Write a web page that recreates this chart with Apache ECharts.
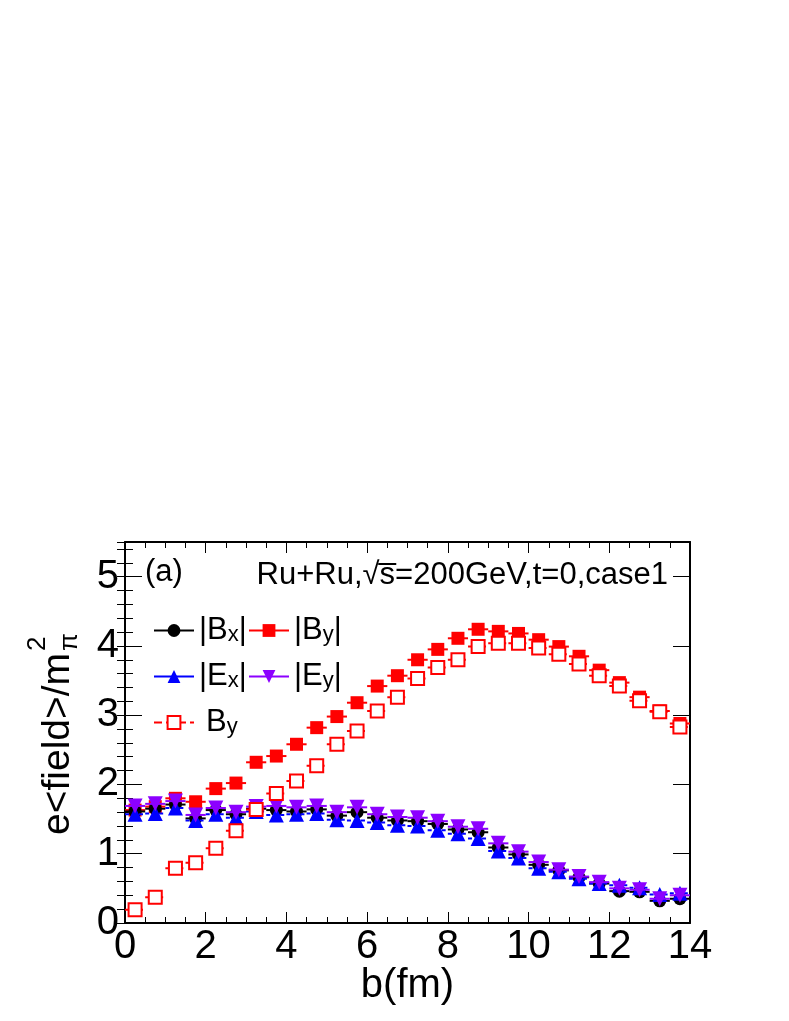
<!DOCTYPE html>
<html>
<head>
<meta charset="utf-8">
<script src="https://cdn.jsdelivr.net/npm/echarts@6.0.0/dist/echarts.min.js"></script>
<style>
  html, body { margin: 0; padding: 0; background: #fff; }
  #chart { width: 789px; height: 1021px; }
</style>
</head>
<body>
<div id="chart"></div>
<script>
const FONT = '"Liberation Sans", Arial, Helvetica, sans-serif';

// impact parameter bin centres, fm
const bCenters = [0.25, 0.75, 1.25, 1.75, 2.25, 2.75, 3.25, 3.75, 4.25, 4.75,
                  5.25, 5.75, 6.25, 6.75, 7.25, 7.75, 8.25, 8.75, 9.25, 9.75,
                  10.25, 10.75, 11.25, 11.75, 12.25, 12.75, 13.25, 13.75];
// half bin width -> horizontal error bar
const bHalfWidth = 0.25;

// e<field>/m_pi^2
const bxAbs = [1.61, 1.65, 1.71, 1.51, 1.63, 1.57, 1.65, 1.63, 1.61, 1.64,
               1.55, 1.60, 1.52, 1.48, 1.47, 1.43, 1.35, 1.31, 1.09, 0.99,
               0.84, 0.76, 0.66, 0.57, 0.46, 0.45, 0.32, 0.35];
const byAbs = [1.63, 1.68, 1.80, 1.75, 1.94, 2.02, 2.32, 2.41, 2.58, 2.82,
               2.98, 3.18, 3.42, 3.57, 3.80, 3.95, 4.11, 4.24, 4.21, 4.18,
               4.09, 3.99, 3.85, 3.65, 3.47, 3.26, 3.06, 2.88];
const exAbs = [1.57, 1.58, 1.66, 1.48, 1.57, 1.52, 1.61, 1.56, 1.57, 1.58,
               1.49, 1.48, 1.45, 1.41, 1.40, 1.34, 1.29, 1.22, 1.04, 0.94,
               0.79, 0.74, 0.64, 0.57, 0.545, 0.51, 0.41, 0.43];
const eyAbs = [1.69, 1.72, 1.76, 1.56, 1.66, 1.60, 1.68, 1.69, 1.67, 1.69,
               1.60, 1.67, 1.57, 1.53, 1.52, 1.47, 1.39, 1.36, 1.15, 1.03,
               0.88, 0.77, 0.67, 0.59, 0.50, 0.48, 0.35, 0.40];
const bySigned = [0.19, 0.37, 0.79, 0.87, 1.08, 1.33, 1.64, 1.87, 2.05, 2.27,
                  2.58, 2.77, 3.06, 3.26, 3.53, 3.69, 3.80, 3.99, 4.04, 4.04,
                  3.97, 3.88, 3.74, 3.57, 3.42, 3.21, 3.05, 2.83];

const RED = '#ff0000', BLUE = '#0000ff', VIOLET = '#8c00ff', BLACK = '#000000';

function pts(vals) {
  return bCenters.map((b, i) => [b, vals[i]]);
}

function barSeries(vals, color, dashed, z) {
  return {
    type: 'custom',
    data: pts(vals),
    z: z,
    silent: true,
    animation: false,
    renderItem: function (params, api) {
      const b = api.value(0), v = api.value(1);
      const p1 = api.coord([b - bHalfWidth, v]);
      const p2 = api.coord([b + bHalfWidth, v]);
      return {
        type: 'line',
        shape: { x1: p1[0], y1: p1[1], x2: p2[0], y2: p2[1] },
        style: { stroke: color, lineWidth: 2, lineDash: dashed ? [4, 3] : null }
      };
    }
  };
}

function markerSeries(name, vals, symbol, color, size, z, rotate) {
  return {
    name: name,
    type: 'line',
    data: pts(vals),
    symbol: symbol,
    symbolSize: size,
    symbolRotate: rotate || 0,
    showSymbol: true,
    showAllSymbol: true,
    z: z,
    silent: true,
    animation: false,
    itemStyle: { color: color },
    lineStyle: { width: 0, opacity: 0 },
    emphasis: { disabled: true }
  };
}

const sub = { fontFamily: FONT, fontSize: 22, lineHeight: 22, padding: [15, 0, 0, 0], verticalAlign: 'bottom', color: '#000' };
const main = { fontFamily: FONT, fontSize: 31, lineHeight: 31, verticalAlign: 'top', color: '#000' };
const mainGap = Object.assign({}, main, { padding: [0, 0, 0, 7] });

const legendSpecs = [
  { name: '|Bx|', label: '{m||B}{s|x}{m||}', left: 153, top: 609, color: BLACK, type: 'solid' },
  { name: '|By|', label: '{m||B}{s|y}{m||}', left: 248, top: 609, color: RED, type: 'solid' },
  { name: '|Ex|', label: '{m||E}{s|x}{m||}', left: 153, top: 655, color: BLUE, type: 'solid' },
  { name: '|Ey|', label: '{m||E}{s|y}{m||}', left: 248, top: 655, color: VIOLET, type: 'solid' },
  { name: 'By',   label: '{g|B}{s|y}',       left: 153, top: 701, color: RED, type: 'dashed' }
];

const legends = legendSpecs.map(s => ({
  left: s.left,
  top: s.top,
  padding: 0,
  itemWidth: 40,
  itemHeight: 16,
  selectedMode: false,
  data: [{ name: s.name, lineStyle: { color: s.color, width: 2, type: s.type, opacity: 1 } }],
  formatter: () => s.label,
  textStyle: { rich: { m: main, g: mainGap, s: sub } }
}));

const axisLine = { show: true, onZero: false, lineStyle: { color: '#000', width: 2 } };
const tickLine = { color: '#000', width: 1 };

function xAx(position, labels) {
  return {
    type: 'value', min: 0, max: 14, interval: 2, position: position,
    axisLine: axisLine,
    axisTick: { show: true, inside: true, length: 11, lineStyle: tickLine },
    minorTick: { show: true, splitNumber: 4, length: 6, lineStyle: tickLine },
    splitLine: { show: false }, minorSplitLine: { show: false },
    axisLabel: labels ? { show: true, margin: 4, fontFamily: FONT, fontSize: 40, color: '#000' } : { show: false },
    name: labels ? 'b(fm)' : '',
    nameLocation: 'middle', nameGap: 43, nameMoveOverlap: false,
    nameTextStyle: { fontFamily: FONT, fontSize: 40, color: '#000' }
  };
}

function yAx(position, interval, len, labels, line) {
  return {
    type: 'value', min: 0, max: 5.5, interval: interval, position: position,
    axisLine: line ? axisLine : { show: false },
    axisTick: { show: true, inside: true, length: len, lineStyle: tickLine },
    splitLine: { show: false },
    axisLabel: labels ? {
      show: true, margin: 6, fontFamily: FONT, fontSize: 40, color: '#000',
      formatter: v => (Math.abs(v - Math.round(v)) < 1e-6 ? String(Math.round(v)) : '')
    } : { show: false }
  };
}

const chart = echarts.init(document.getElementById('chart'), null, { renderer: 'canvas' });

// y title: e<field>/m with stacked 2 and pi
const ctx = document.createElement('canvas').getContext('2d');
ctx.font = '39px ' + FONT;
const yTitleMain = 'e<field>/m';
const yTitleW = ctx.measureText(yTitleMain).width;

const option = {
  backgroundColor: '#fff',
  animation: false,
  grid: { left: 125, right: 99, top: 542, bottom: 98, outerBoundsMode: 'none', containLabel: false },
  xAxis: [xAx('bottom', true), xAx('top', false)],
  yAxis: [yAx('left', 1, 17, true, true), yAx('left', 0.2, 8, false, false),
          yAx('right', 1, 17, false, true), yAx('right', 0.2, 8, false, false)],
  legend: legends,
  title: [
    { text: '(a)', left: 145, top: 557, padding: 0,
      textStyle: { fontFamily: FONT, fontSize: 31, fontWeight: 'normal', color: '#000' } },
    { text: 'Ru+Ru,\u221As\u0305=200GeV,t=0,case1', right: 121, top: 560, padding: 0,
      textStyle: { fontFamily: FONT, fontSize: 31, fontWeight: 'normal', color: '#000' } }
  ],
  graphic: [{
    type: 'group', x: 58, y: 835, rotation: Math.PI / 2, silent: true,
    children: [
      { type: 'text', x: 0, y: 0, style: { text: yTitleMain, font: '39px ' + FONT, fill: '#000', textAlign: 'left', textVerticalAlign: 'middle' } },
      { type: 'text', x: yTitleW + 2, y: -20, style: { text: '2', font: '26px ' + FONT, fill: '#000', textAlign: 'left', textVerticalAlign: 'middle' } },
      { type: 'text', x: yTitleW + 2, y: 12, style: { text: '\u03C0', font: '26px ' + FONT, fill: '#000', textAlign: 'left', textVerticalAlign: 'middle' } }
    ]
  }],
  series: [
    barSeries(byAbs, RED, false, 2),
    markerSeries('|By|', byAbs, 'rect', RED, 13, 3),
    barSeries(bxAbs, BLACK, false, 4),
    markerSeries('|Bx|', bxAbs, 'circle', BLACK, 13, 5),
    barSeries(exAbs, BLUE, true, 6),
    markerSeries('|Ex|', exAbs, 'triangle', BLUE, 15, 7),
    barSeries(eyAbs, VIOLET, false, 8),
    markerSeries('|Ey|', eyAbs, 'triangle', VIOLET, 15, 9, 180),
    barSeries(bySigned, RED, true, 10),
    markerSeries('By', bySigned, 'emptyRect', RED, 13, 11)
  ]
};

chart.setOption(option);
</script>
</body>
</html>
